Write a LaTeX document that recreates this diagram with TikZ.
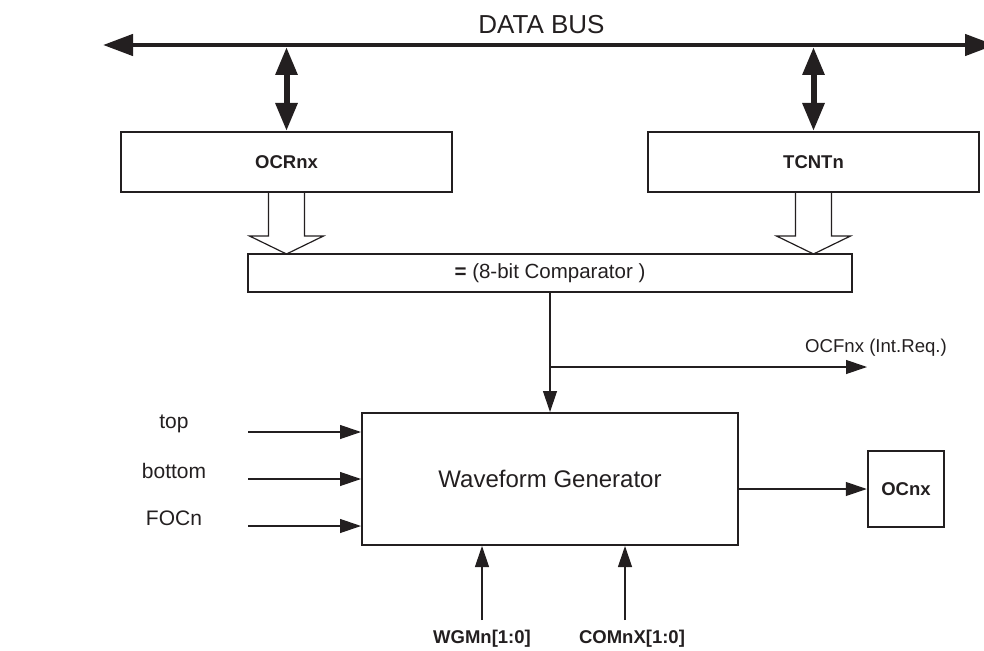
\documentclass[tikz,border=0pt]{standalone}
\usepackage{fontspec}
\setmainfont{Liberation Sans}
\usetikzlibrary{arrows.meta}
\definecolor{inkline}{RGB}{35,31,32}
\begin{document}
\begin{tikzpicture}
[x=1pt,y=-1pt,
  regdecorate/.style={shape=rectangle,draw=inkline,line width=2pt,inner sep=0pt,text=inkline,%
    font=\fontsize{18.5}{20}\selectfont\bfseries},
  blockdecorate/.style={shape=rectangle,draw=inkline,line width=2pt,inner sep=0pt,text=inkline},
  busdecorate/.style={draw=inkline,line width=4.5pt,{Triangle[length=30pt,width=21pt]}-{Triangle[length=30pt,width=21pt]}},
  portdecorate/.style={draw=inkline,line width=6pt,{Triangle[length=28pt,width=21pt]}-{Triangle[length=28pt,width=21pt]}},
  sigdecorate/.style={draw=inkline,line width=1.2pt,-{Triangle[length=21pt,width=14pt]}},
  labeldecorate/.style={inner sep=0pt,text=inkline,font=\fontsize{21}{23}\selectfont},
  ctldecorate/.style={inner sep=0pt,text=inkline,font=\fontsize{18.5}{20}\selectfont\bfseries},
  widearrow/.pic={\draw[draw=inkline,line width=1.2pt,fill=white]
    (-18,0) -- (-18,43) -- (-37,43) -- (0,61) -- (37,43) -- (18,43) -- (18,0);}]
\useasboundingbox (0,0) rectangle (984,650);
\clip (0,0) rectangle (984,650);
%% data bus
\coordinate (busL) at (103,45);
\coordinate (busR) at (995,45);
\node (buslabel) at (541.5,25) [inner sep=0pt,text=inkline,font=\fontsize{26}{28}\selectfont] {DATA BUS};
\draw[busdecorate] (busL) -- (busR);
%% registers
\node (ocr) at (286.5,162) [regdecorate,minimum width=331pt,minimum height=60pt] {OCRnx};
\node (tcnt) at (813.5,162) [regdecorate,minimum width=331pt,minimum height=60pt] {TCNTn};
\foreach \regname in {ocr, tcnt} {
  \draw[portdecorate,shorten >=2pt] (\regname.north) -- (\regname.north |- busL);
  \pic at (\regname.south) {widearrow};
}
%% comparator
\node (comp) at (550,273) [blockdecorate,minimum width=604pt,minimum height=38pt,%
  font=\fontsize{20.5}{22}\selectfont] {\textbf{=} (8-bit Comparator )};
%% waveform generator
\node (wave) at (550,479) [blockdecorate,minimum width=376pt,minimum height=132pt,%
  font=\fontsize{24}{26}\selectfont] {Waveform Generator};
\node (ocout) at (906,489) [regdecorate,line width=2.5pt,minimum width=76pt,minimum height=76pt] {OCnx};
\draw[sigdecorate] (comp.south) -- (wave.north);
\coordinate (ocfend) at (867,367);
\draw[sigdecorate] (comp.south |- ocfend) -- (ocfend);
\node (ocflabel) at (876,348) [labeldecorate,font=\fontsize{18.6}{20}\selectfont] {OCFnx (Int.Req.)};
\draw[sigdecorate] (ocout.west -| wave.east) -- (ocout.west);
%% inputs
\foreach \inname/\intext/\y in {top/top/432, bot/bottom/479, foc/FOCn/526} {
  \coordinate (\inname in) at (248,\y);
  \node (\inname label) at (174,\y-8) [labeldecorate] {\intext};
  \draw[sigdecorate] (\inname in) -- (\inname in -| wave.west);
}
\foreach \inname/\intext/\xa/\xl in {wgm/WGMn[1:0]/482/482, com/COMnX[1:0]/625/632} {
  \coordinate (\inname in) at (\xa,620);
  \node (\inname label) at (\xl,639) [ctldecorate] {\intext};
  \draw[sigdecorate] (\inname in) -- (\inname in |- wave.south);
}
\end{tikzpicture}
\end{document}
